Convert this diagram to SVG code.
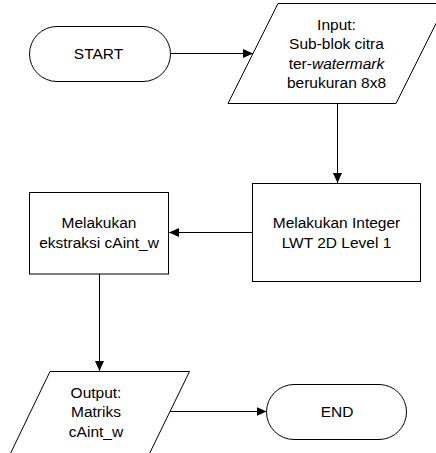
<svg xmlns="http://www.w3.org/2000/svg" width="436" height="453" viewBox="0 0 436 453">
  <style>
    .shape { fill: #ffffff; stroke: #000000; stroke-width: 1; }
    .label { font-family: "Liberation Sans", Arial, sans-serif; font-size: 15.5px; fill: #000000; text-anchor: middle; }
    .conn { fill: none; stroke: #000000; stroke-width: 1; marker-end: url(#arrow); }
  </style>
  <defs>
    <marker id="arrow" viewBox="0 0 10 10" refX="10" refY="5" markerWidth="10" markerHeight="10" markerUnits="userSpaceOnUse" orient="auto">
      <path d="M0,0.5 L10,5 L0,9.5 Z" fill="#000000"/>
    </marker>
  </defs>
  <rect width="436" height="453" fill="#ffffff"/>

  <g id="connectors">
    <line class="conn" x1="170" y1="53.5" x2="253" y2="53.5"/>
    <line class="conn" x1="337.5" y1="103" x2="337.5" y2="183"/>
    <line class="conn" x1="252" y1="232.5" x2="169" y2="232.5"/>
    <line class="conn" x1="99.5" y1="274" x2="99.5" y2="371"/>
    <line class="conn" x1="170" y1="411.5" x2="266.5" y2="411.5"/>
  </g>

  <g id="start">
    <rect class="shape" x="29.5" y="26.5" width="141" height="55" rx="27.5" ry="27.5"/>
    <text class="label" x="98.5" y="59">START</text>
  </g>

  <g id="input">
    <polygon class="shape" points="278,3.5 446,3.5 396,103.5 228,103.5"/>
    <text class="label" x="336.5" y="29.5">Input:</text>
    <text class="label" x="336.5" y="49">Sub-blok citra</text>
    <text class="label" x="336.5" y="68.5">ter-<tspan font-style="italic">watermark</tspan></text>
    <text class="label" x="336.5" y="87.5">berukuran 8x8</text>
  </g>

  <g id="lwt">
    <rect class="shape" x="252.5" y="183.5" width="168" height="98"/>
    <text class="label" x="336.5" y="228">Melakukan Integer</text>
    <text class="label" x="336.5" y="247.5">LWT 2D Level 1</text>
  </g>

  <g id="ekstraksi">
    <rect class="shape" x="29.5" y="192.5" width="139" height="81.5"/>
    <text class="label" x="99" y="228">Melakukan</text>
    <text class="label" x="99" y="247.5">ekstraksi cAint_w</text>
  </g>

  <g id="output">
    <polygon class="shape" points="50,371.5 189.5,371.5 141,471 2,471"/>
    <text class="label" x="96" y="397.5">Output:</text>
    <text class="label" x="96" y="417">Matriks</text>
    <text class="label" x="96" y="436.5">cAint_w</text>
  </g>

  <g id="end">
    <rect class="shape" x="266.5" y="384.5" width="140" height="55" rx="27.5" ry="27.5"/>
    <text class="label" x="337" y="417">END</text>
  </g>
</svg>
